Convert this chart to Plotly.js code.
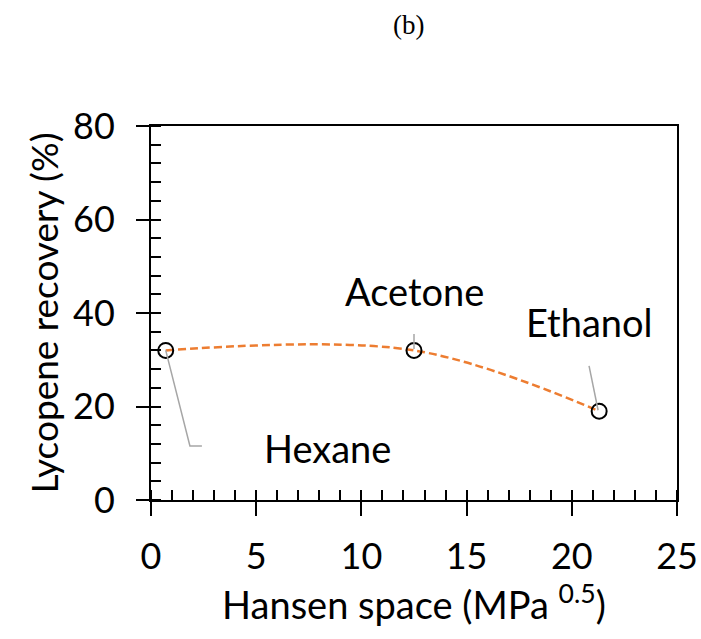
<!DOCTYPE html>
<html>
<head>
<meta charset="utf-8">
<script src="https://cdn.plot.ly/plotly-3.0.1.min.js"></script>
<style>html,body{margin:0;padding:0;background:#fff;}#chart{width:701px;height:639px;}</style>
</head>
<body>
<div id="chart"></div>
<script>
const solvents = ["Hexane", "Acetone", "Ethanol"];
const hansenSpace = [0.7, 12.5, 21.3];
const lycopeneRecovery = [32, 32, 19];
const labelX = [8.4, 12.5, 20.85];
const labelY = [11.1, 44.7, 38.1];
const xTicks = [0, 5, 10, 15, 20, 25];
const yTicks = [0, 20, 40, 60, 80];

const FONT = "Lato, 'Open Sans', sans-serif";

const trace = {
  x: hansenSpace, y: lycopeneRecovery, mode: "lines+markers", type: "scatter",
  line: {color: "#ED7D31", width: 2.5, dash: "8px,4px", shape: "spline", smoothing: 1},
  marker: {symbol: "circle-open", size: 15, color: "#000000", line: {width: 2, color: "#000000"}},
  cliponaxis: false, hoverinfo: "skip", showlegend: false
};

const grey = {color: "#A6A6A6", width: 1.5};
const shapes = [
  {type: "path", xref: "x", yref: "y", line: grey,
   path: `M ${hansenSpace[0]} ${lycopeneRecovery[0]} L 1.85 11.55 L 2.42 11.55`},
  {type: "line", xref: "x", yref: "y", line: grey,
   x0: hansenSpace[1], y0: 35.5, x1: hansenSpace[1], y1: lycopeneRecovery[1] + 0.3},
  {type: "line", xref: "x", yref: "y", line: grey,
   x0: 20.82, y0: 28.7, x1: hansenSpace[2] - 0.05, y1: lycopeneRecovery[2] + 0.2}
];

const annotations = solvents.map((s, i) => ({
  x: labelX[i], y: labelY[i], xref: "x", yref: "y", text: s, showarrow: false,
  font: {family: FONT, size: 38, color: "#000"}, xanchor: "center", yanchor: "middle"
}));
annotations.push({
  text: "(b)", xref: "paper", yref: "paper", x: 0.49, y: 1, yshift: 101,
  showarrow: false, font: {family: "'Liberation Serif', 'Times New Roman', serif", size: 27, color: "#000"},
  xanchor: "center", yanchor: "middle"
});

const layout = {
  width: 701, height: 639,
  margin: {l: 151, r: 24, t: 126, b: 139},
  paper_bgcolor: "#fff", plot_bgcolor: "#fff",
  font: {family: FONT, color: "#000"},
  xaxis: {
    range: [0, 25], tickvals: xTicks, ticktext: xTicks.map(String),
    showgrid: false, zeroline: false, showline: true, linecolor: "#000", linewidth: 2, mirror: true,
    ticks: "outside", ticklen: 14, tickwidth: 2, tickcolor: "#000",
    minor: {dtick: 1, ticks: "inside", ticklen: 10, tickwidth: 2, tickcolor: "#000", showgrid: false},
    tickfont: {family: FONT, size: 36}, ticklabelstandoff: 10,
    title: {text: "Hansen space (MPa <sup>0.5</sup>)", font: {family: FONT, size: 38}, standoff: 12},
    automargin: false, fixedrange: true
  },
  yaxis: {
    range: [0, 80], tickvals: yTicks, ticktext: yTicks.map(String),
    showgrid: false, zeroline: false, showline: true, linecolor: "#000", linewidth: 2, mirror: true,
    ticks: "outside", ticklen: 13, tickwidth: 2, tickcolor: "#000",
    minor: {dtick: 4, ticks: "inside", ticklen: 10, tickwidth: 2, tickcolor: "#000", showgrid: false},
    tickfont: {family: FONT, size: 36}, ticklabelstandoff: 14,
    title: {text: "Lycopene recovery (%)", font: {family: FONT, size: 37}, standoff: 3},
    automargin: false, fixedrange: true
  },
  xaxis2: {overlaying: "x", matches: "x", range: [0, 25], tickvals: xTicks, showticklabels: false,
    ticks: "inside", ticklen: 10, tickwidth: 2, tickcolor: "#000", showgrid: false, zeroline: false, showline: false},
  yaxis2: {overlaying: "y", matches: "y", range: [0, 80], tickvals: yTicks, showticklabels: false,
    ticks: "inside", ticklen: 10, tickwidth: 2, tickcolor: "#000", showgrid: false, zeroline: false, showline: false},
  shapes: shapes,
  annotations: annotations
};

const dummy = {x: [null], y: [null], xaxis: "x2", yaxis: "y2", type: "scatter", mode: "markers", showlegend: false, hoverinfo: "skip"};

Plotly.newPlot("chart", [trace, dummy], layout, {displayModeBar: false, staticPlot: true});
</script>
</body>
</html>
